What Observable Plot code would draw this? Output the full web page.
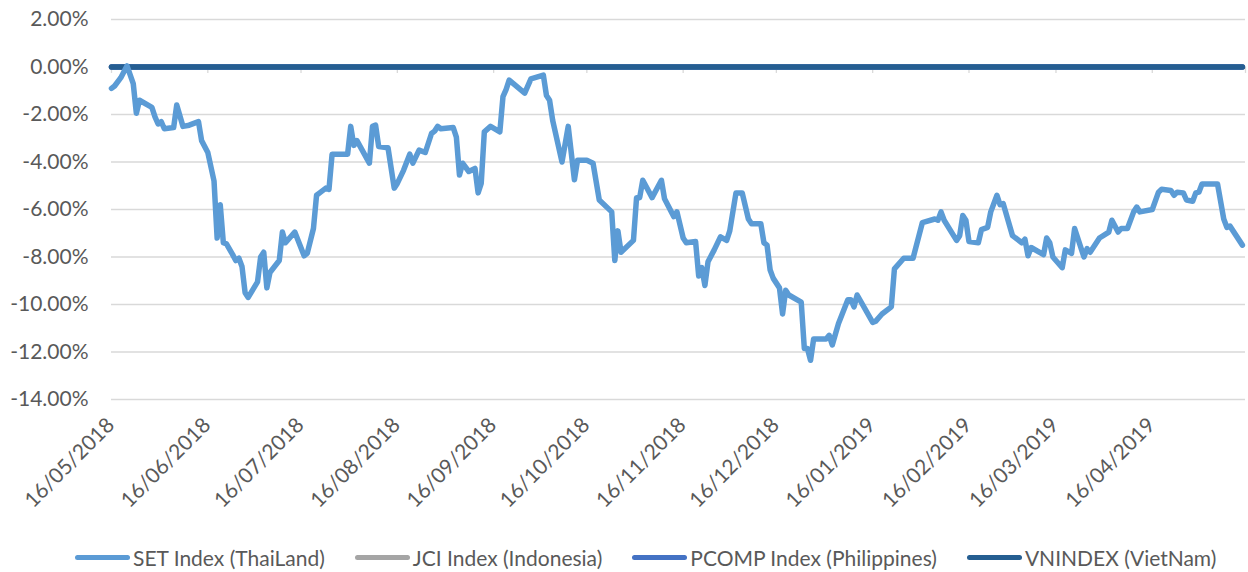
<!DOCTYPE html>
<html>
<head>
<meta charset="utf-8">
<script src="https://cdn.jsdelivr.net/npm/d3@7"></script>
<script src="https://cdn.jsdelivr.net/npm/@observablehq/plot@0.6"></script>
<style>
  html, body { margin: 0; padding: 0; background: #fff; }
  #wrap { position: relative; width: 1248px; height: 572px; font-family: Lato, "Open Sans", sans-serif; }
  #legend { position: absolute; left: 75px; top: 545px; display: flex; align-items: center; gap: 30px; font-size: 21px; color: #595959; white-space: nowrap; }
  .item { display: flex; align-items: center; gap: 3px; }
  .sw { width: 55px; height: 5px; border-radius: 3px; }
</style>
</head>
<body>
<div id="wrap">
  <div id="chart"></div>
  <div id="legend"></div>
</div>
<script>
// ---- data ----
const seriesNames = ["SET Index (ThaiLand)", "JCI Index (Indonesia)", "PCOMP Index (Philippines)", "VNINDEX (VietNam)"];
const seriesColors = ["#5B9BD5", "#A5A5A5", "#4472C4", "#255E91"];

const setDates = [
  "2018-05-16","2018-05-17","2018-05-19","2018-05-21","2018-05-23","2018-05-24","2018-05-25","2018-05-29","2018-05-30","2018-05-31",
  "2018-06-01","2018-06-02","2018-06-05","2018-06-06","2018-06-08","2018-06-10","2018-06-13","2018-06-14","2018-06-16","2018-06-18",
  "2018-06-19","2018-06-20","2018-06-21","2018-06-22","2018-06-24","2018-06-25","2018-06-26","2018-06-27","2018-06-28","2018-06-29",
  "2018-07-02","2018-07-03","2018-07-04","2018-07-05","2018-07-06","2018-07-09","2018-07-10","2018-07-11","2018-07-14","2018-07-17",
  "2018-07-18","2018-07-20","2018-07-21","2018-07-22","2018-07-24","2018-07-25","2018-07-26","2018-07-31","2018-08-01","2018-08-02",
  "2018-08-03","2018-08-07","2018-08-08","2018-08-09","2018-08-10","2018-08-13","2018-08-15","2018-08-16","2018-08-18","2018-08-20",
  "2018-08-21","2018-08-23","2018-08-25","2018-08-27","2018-08-28","2018-08-29","2018-08-30","2018-09-03","2018-09-04","2018-09-05",
  "2018-09-06","2018-09-08","2018-09-10","2018-09-11","2018-09-12","2018-09-13","2018-09-15","2018-09-18","2018-09-19","2018-09-20",
  "2018-09-21","2018-09-26","2018-09-28","2018-10-02","2018-10-03","2018-10-04","2018-10-05","2018-10-08","2018-10-10","2018-10-12",
  "2018-10-13","2018-10-16","2018-10-18","2018-10-20","2018-10-24","2018-10-25","2018-10-26","2018-10-27","2018-10-31","2018-11-01",
  "2018-11-02","2018-11-03","2018-11-06","2018-11-09","2018-11-10","2018-11-13","2018-11-14","2018-11-16","2018-11-17","2018-11-20",
  "2018-11-21","2018-11-22","2018-11-23","2018-11-24","2018-11-26","2018-11-28","2018-11-30","2018-12-01","2018-12-03","2018-12-05",
  "2018-12-07","2018-12-08","2018-12-11","2018-12-12","2018-12-13","2018-12-14","2018-12-15","2018-12-17","2018-12-18","2018-12-19",
  "2018-12-20","2018-12-24","2018-12-25","2018-12-26","2018-12-27","2018-12-28","2019-01-01","2019-01-02","2019-01-03","2019-01-05",
  "2019-01-08","2019-01-09","2019-01-10","2019-01-11","2019-01-16","2019-01-17","2019-01-19","2019-01-22","2019-01-23","2019-01-26",
  "2019-01-29","2019-02-01","2019-02-05","2019-02-06","2019-02-07","2019-02-08","2019-02-12","2019-02-13","2019-02-14","2019-02-15",
  "2019-02-16","2019-02-19","2019-02-20","2019-02-22","2019-02-23","2019-02-25","2019-02-26","2019-02-27","2019-03-02","2019-03-05",
  "2019-03-06","2019-03-07","2019-03-08","2019-03-12","2019-03-13","2019-03-14","2019-03-15","2019-03-18","2019-03-19","2019-03-21",
  "2019-03-22","2019-03-25","2019-03-26","2019-03-27","2019-03-30","2019-04-02","2019-04-03","2019-04-05","2019-04-06","2019-04-08",
  "2019-04-10","2019-04-11","2019-04-12","2019-04-16","2019-04-18","2019-04-19","2019-04-22","2019-04-23","2019-04-24","2019-04-26",
  "2019-04-27","2019-04-29","2019-04-30","2019-05-01","2019-05-02","2019-05-07","2019-05-09","2019-05-10","2019-05-11","2019-05-13",
  "2019-05-15"
];
const setChange = [
  -0.9,-0.8,-0.45,0.05,-0.7,-1.95,-1.4,-1.7,-2.1,-2.4,
  -2.3,-2.6,-2.55,-1.6,-2.5,-2.45,-2.3,-3.1,-3.6,-4.8,
  -7.2,-5.8,-7.4,-7.45,-7.9,-8.15,-8.05,-8.4,-9.5,-9.7,
  -9.05,-8.0,-7.8,-9.3,-8.65,-8.15,-6.95,-7.4,-6.95,-7.95,
  -7.85,-6.8,-5.4,-5.3,-5.1,-5.15,-3.67,-3.67,-2.5,-3.3,
  -3.1,-4.05,-2.5,-2.45,-3.35,-3.4,-5.1,-4.9,-4.35,-3.67,
  -4.05,-3.5,-3.6,-2.8,-2.7,-2.5,-2.6,-2.55,-2.95,-4.55,
  -4.05,-4.4,-4.27,-5.3,-4.9,-2.73,-2.5,-2.73,-1.25,-0.95,
  -0.55,-1.1,-0.5,-0.34,-1.2,-1.4,-2.25,-4.0,-2.5,-4.75,
  -3.93,-3.93,-4.05,-5.6,-6.1,-8.15,-6.9,-7.8,-7.3,-5.5,
  -5.5,-4.77,-5.5,-4.77,-5.55,-6.3,-6.1,-7.2,-7.4,-7.35,
  -8.8,-8.45,-9.2,-8.2,-7.7,-7.15,-7.3,-6.9,-5.3,-5.3,
  -6.4,-6.6,-6.6,-7.4,-7.5,-8.55,-8.9,-9.3,-10.4,-9.4,
  -9.6,-9.9,-11.85,-11.85,-12.35,-11.45,-11.45,-11.3,-11.7,-10.8,
  -9.8,-9.8,-10.1,-9.6,-10.75,-10.7,-10.4,-10.1,-8.5,-8.05,
  -8.05,-6.55,-6.4,-6.45,-6.1,-6.45,-7.3,-7.1,-6.25,-6.45,
  -7.35,-7.4,-6.85,-6.75,-6.1,-5.4,-5.8,-5.75,-7.1,-7.4,
  -7.25,-7.95,-7.6,-7.9,-7.2,-7.4,-8.0,-8.45,-7.7,-7.85,
  -6.8,-8.0,-7.65,-7.8,-7.2,-6.95,-6.45,-6.95,-6.8,-6.8,
  -6.1,-5.9,-6.1,-6.0,-5.27,-5.15,-5.2,-5.4,-5.27,-5.3,
  -5.6,-5.65,-5.3,-5.27,-4.93,-4.93,-6.4,-6.75,-6.7,-7.1,
  -7.5
];
// Other indices: flat at 0 over the period (JCI and PCOMP hidden beneath VNINDEX)
const flatDates = ["2018-05-16", "2019-05-15"];
const jciChange = [0, 0];
const pcompChange = [0, 0];
const vnChange = [0, 0];

const xTickDates = ["2018-05-16","2018-06-16","2018-07-16","2018-08-16","2018-09-16","2018-10-16","2018-11-16","2018-12-16","2019-01-16","2019-02-16","2019-03-16","2019-04-16","2019-05-16"];
const xLabelDates = xTickDates.slice(0, 12);
const yTicks = [2, 0, -2, -4, -6, -8, -10, -12, -14];

// ---- build ----
const parse = d3.utcParse("%Y-%m-%d");
const fmtDate = d3.utcFormat("%d/%m/%Y");
const setData = setDates.map((d, i) => ({date: parse(d), v: setChange[i]}));
const flat = (vals) => flatDates.map((d, i) => ({date: parse(d), v: vals[i]}));
const jciData = flat(jciChange), pcompData = flat(pcompChange), vnData = flat(vnChange);
const tickD = xTickDates.map(parse);
const labelD = xLabelDates.map(parse);

const chart = Plot.plot({
  width: 1248,
  height: 530,
  marginLeft: 111,
  marginRight: 3,
  marginTop: 19,
  marginBottom: 131,
  style: {fontFamily: "Lato, 'Open Sans', sans-serif", background: "transparent"},
  x: {type: "utc", domain: [parse("2018-05-16"), parse("2019-05-16")], axis: null},
  y: {domain: [-14, 2], axis: null},
  marks: [
    Plot.ruleY(yTicks, {stroke: "#d9d9d9", strokeWidth: 1.3}),
    Plot.axisY(yTicks, {label: null, tickSize: 0, tickPadding: 23, fontSize: 21, fill: "#595959", tickFormat: d => d.toFixed(2) + "%"}),
    Plot.ruleX(tickD, {x: d => d, y1: 0, y2: -0.27, stroke: "#d9d9d9", strokeWidth: 1.3}),
    Plot.text(labelD, {x: d => d, frameAnchor: "bottom", text: d => fmtDate(d), rotate: -45, textAnchor: "end", dx: 4, dy: 27, fontSize: 21, fill: "#595959"}),
    Plot.line(jciData, {x: "date", y: "v", stroke: seriesColors[1], strokeWidth: 5.5, strokeLinecap: "round"}),
    Plot.line(pcompData, {x: "date", y: "v", stroke: seriesColors[2], strokeWidth: 5.5, strokeLinecap: "round"}),
    Plot.line(vnData, {x: "date", y: "v", stroke: seriesColors[3], strokeWidth: 5.5, strokeLinecap: "round"}),
    Plot.line(setData, {x: "date", y: "v", stroke: seriesColors[0], strokeWidth: 5.5, strokeLinejoin: "round", strokeLinecap: "round"})
  ]
});
document.getElementById("chart").appendChild(chart);

const legend = document.getElementById("legend");
seriesNames.forEach((name, i) => {
  const it = document.createElement("div");
  it.className = "item";
  const sw = document.createElement("span");
  sw.className = "sw";
  sw.style.background = seriesColors[i];
  const tx = document.createElement("span");
  tx.textContent = name;
  it.appendChild(sw); it.appendChild(tx);
  legend.appendChild(it);
});
</script>
</body>
</html>
